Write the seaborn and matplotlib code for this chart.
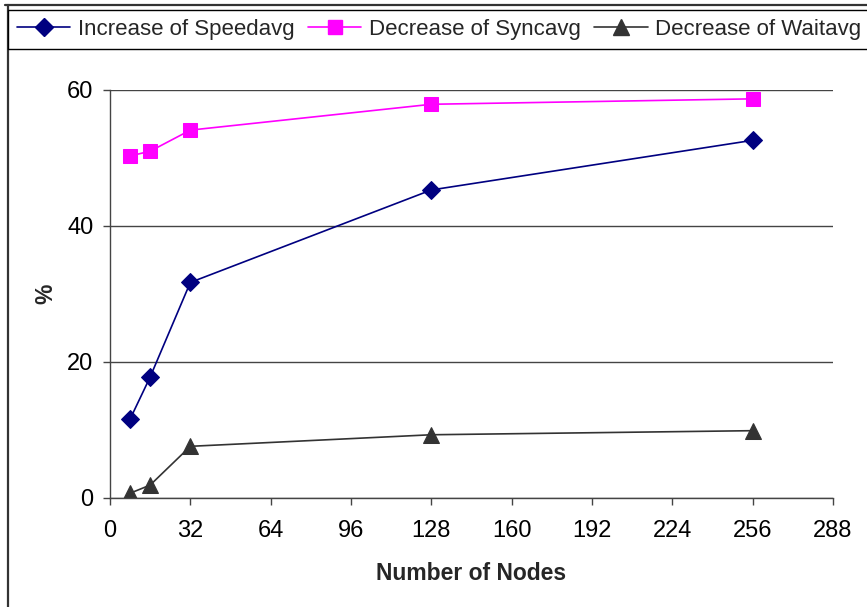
import matplotlib
matplotlib.use("Agg")
import matplotlib.pyplot as plt
from matplotlib.lines import Line2D
import seaborn as sns
import pandas as pd

nodes = [8, 16, 32, 128, 256]
speed_inc = [11.6, 17.8, 31.7, 45.3, 52.6]
sync_dec = [50.3, 51.0, 54.1, 57.9, 58.7]
wait_dec = [0.7, 1.9, 7.6, 9.3, 9.9]
series_names = ["Increase of Speedavg", "Decrease of Syncavg", "Decrease of Waitavg"]
x_ticks = [0, 32, 64, 96, 128, 160, 192, 224, 256, 288]
y_ticks = [0, 20, 40, 60]

sns.set_theme(style="white")
plt.rcParams['font.family'] = ['Liberation Sans', 'DejaVu Sans']

fig = plt.figure(figsize=(8.67, 6.07), dpi=100)
ax = fig.add_axes([110/867, 1-498/607, (833-110)/867, (498-90)/607])

styles = [
    (speed_inc, "#000080", "D", 9.5),
    (sync_dec, "#FF00FF", "s", 9.5),
    (wait_dec, "#333333", "^", 11),
]
handles = []
for name, (vals, col, mk, ms) in zip(series_names, styles):
    df = pd.DataFrame({"x": nodes, "y": vals})
    sns.lineplot(data=df, x="x", y="y", ax=ax, color=col, marker=mk,
                 markersize=ms, markeredgecolor=col, linewidth=1.2, legend=False)
    handles.append(Line2D([], [], color=col, marker=mk, markersize=ms,
                          markeredgecolor=col, linewidth=1.2, label=name))

ax.set_xlim(0, 288)
ax.set_ylim(0, 60)
ax.set_xticks(x_ticks)
ax.set_yticks(y_ticks)
ax.tick_params(axis='both', labelsize=17, colors='#444444', labelcolor='black',
               length=5, width=1, direction='out', bottom=True, left=True)
ax.tick_params(axis='x', pad=11)
ax.tick_params(axis='y', pad=7)
ax.yaxis.grid(True, color='#444444', linewidth=1)
ax.set_axisbelow(True)
for s in ['top', 'right']:
    ax.spines[s].set_visible(False)
for s in ['left', 'bottom']:
    ax.spines[s].set_color('#444444')
    ax.spines[s].set_linewidth(1)

ax.set_xlabel("Number of Nodes", fontsize=16.5, fontweight='bold')
ax.set_ylabel("%", fontsize=16.5, fontweight='bold')
ax.xaxis.set_label_coords(0.5, (498-562)/408)
ax.yaxis.set_label_coords((57-110)/723, 0.5)

leg = fig.legend(handles=handles, loc='upper left', bbox_to_anchor=(8/867, 1-10/607),
                 ncol=3, fontsize=16, frameon=True, fancybox=False, edgecolor='black',
                 framealpha=1, borderaxespad=0, borderpad=0.4, handlelength=2.4,
                 handletextpad=0.35, columnspacing=0.6)
leg.get_frame().set_linewidth(1)

fig.add_artist(Line2D([5/867, 1], [1-4.5/607, 1-4.5/607], color='#333333', linewidth=1.6,
                      transform=fig.transFigure))
fig.add_artist(Line2D([7.5/867, 7.5/867], [0, 1-4.5/607], color='#333333', linewidth=1.6,
                      transform=fig.transFigure))

fig.savefig("out.png", dpi=100)
